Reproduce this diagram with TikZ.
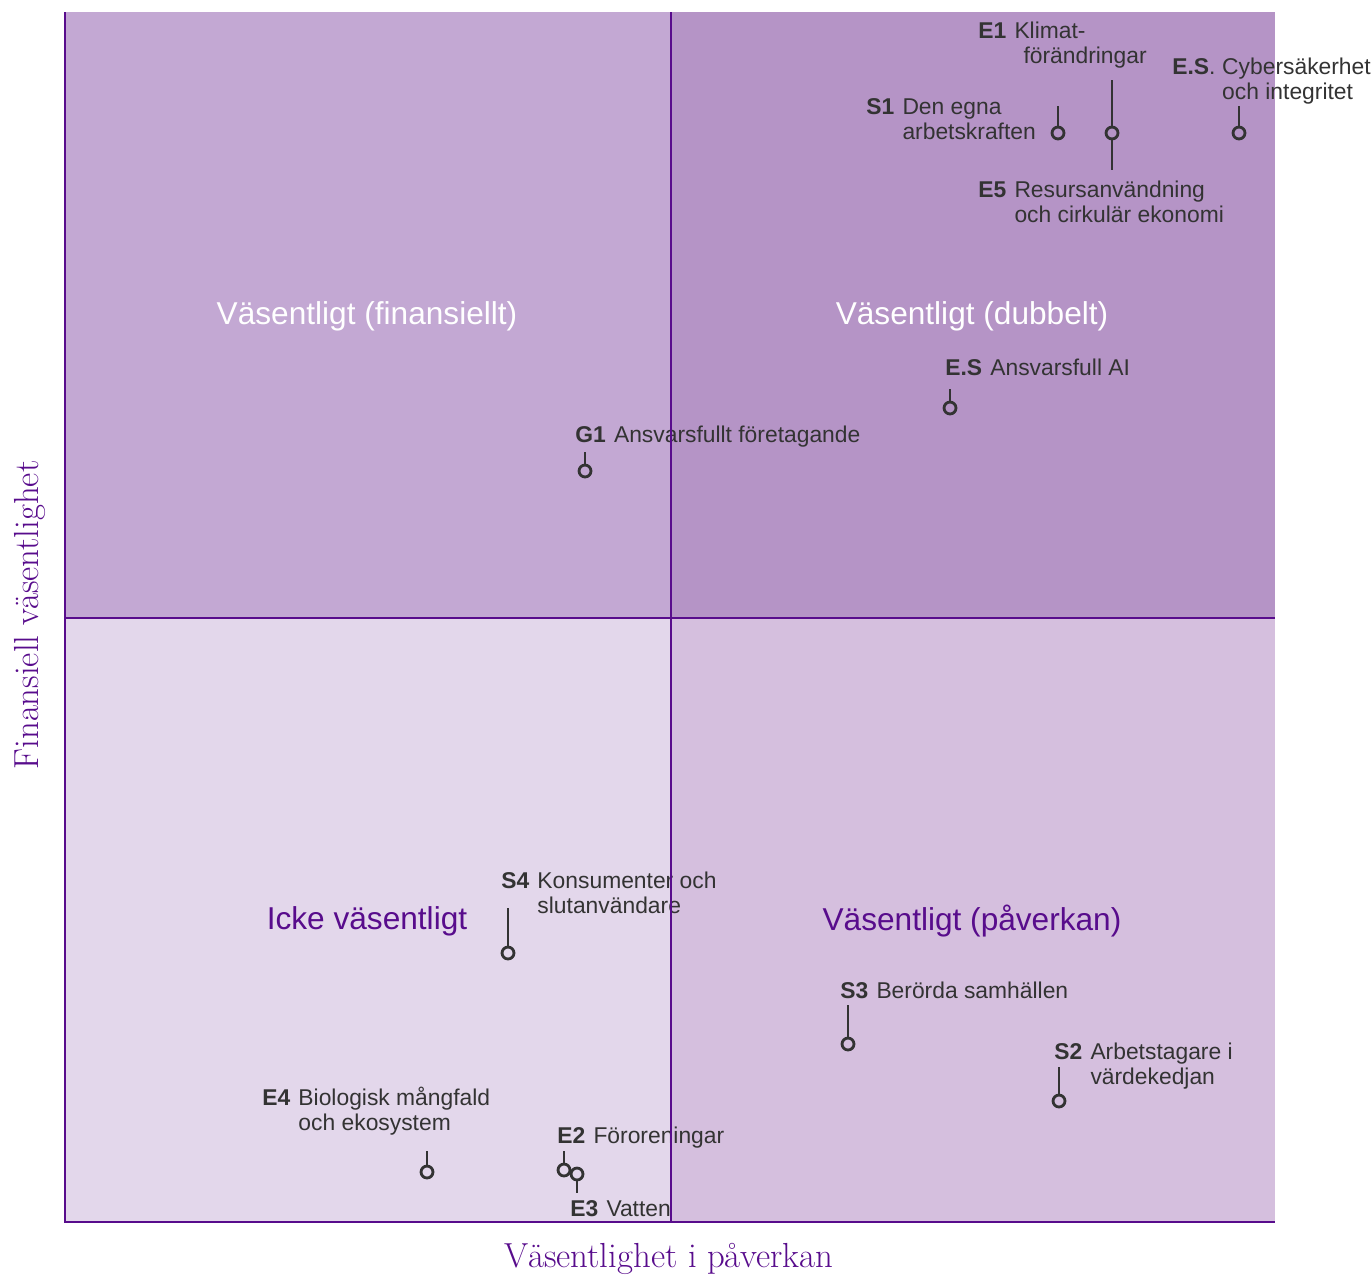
\documentclass[tikz,border=0pt]{standalone}
\usepackage{fontspec}
\newfontfamily\labelfont{Liberation Sans}
\usetikzlibrary{positioning}

\definecolor{quadfin}{RGB}{195,168,211}
\definecolor{quaddub}{RGB}{181,148,198}
\definecolor{quadicke}{RGB}{227,215,235}
\definecolor{quadpav}{RGB}{213,191,222}
\definecolor{gridpurple}{RGB}{88,12,140}
\definecolor{labelgray}{RGB}{51,51,51}

\tikzset{
    dot/.style={circle, draw=labelgray, fill=none, line width=1.6pt, minimum size=6.8pt, inner sep=0pt},
    stem/.style={draw=labelgray, line width=1.6pt},
    code/.style={font=\labelfont\bfseries\fontsize{13}{14.7}\selectfont, text=labelgray, inner sep=0pt, anchor=base west},
    item/.style={font=\labelfont\fontsize{13}{14.7}\selectfont, text=labelgray, inner sep=0pt, align=left},
    twoline/.style={yshift=-14.7pt},
    quadlabel/.style={font=\labelfont\fontsize{18}{20}\selectfont, inner sep=0pt},
    axislabel/.style={font=\fontsize{19.8}{22}\selectfont, text=gridpurple, inner sep=0pt},
    gridline/.style={draw=gridpurple, line width=1.6pt}
}

\begin{document}
\begin{tikzpicture}[x=0.02cm, y=-0.02cm]
    \useasboundingbox (0,0) rectangle (1371,1278);

    % quadrants
    \coordinate (origin) at (65,1222);
    \coordinate (topleft) at (65,12);
    \coordinate (center) at (671,618);
    \coordinate (topright) at (1275,12);
    \coordinate (bottomright) at (1275,1222);
    \fill[quadfin] (topleft) rectangle (center);
    \fill[quaddub] (671,12) rectangle (1275,618);
    \fill[quadicke] (65,618) rectangle (671,1222);
    \fill[quadpav] (center) rectangle (bottomright);

    \node (finlabel) [quadlabel, text=white] at (367,316) {Väsentligt (finansiellt)};
    \node (dublabel) [quadlabel, text=white] at (972,316) {Väsentligt (dubbelt)};
    \node (ickelabel) [quadlabel, text=gridpurple] at (367,921) {Icke väsentligt};
    \node (pavlabel) [quadlabel, text=gridpurple] at (972,921) {Väsentligt (påverkan)};

    % markers
    \node (s1) [dot] at (1058,133) {};
    \coordinate (s1top) at (1058,106);
    \draw[stem] (s1top) -- (s1);
    \node (s1code) [code] at (866,114) {S1};
    \node (s1text) [item, base right=0.15cm of s1code, twoline] {Den egna\\arbetskraften};

    \node (e1) [dot] at (1112,133) {};
    \coordinate (e1top) at (1112,80);
    \coordinate (e5bottom) at (1112,170);
    \draw[stem] (e1top) -- (e1);
    \draw[stem] (e1) -- (e5bottom);
    \node (e1code) [code] at (978,38) {E1};
    \node (e1text) [item, base right=0.15cm of e1code, twoline] {Klimat-\\\hspace*{0.18cm}förändringar};
    \node (e5code) [code] at (978,197) {E5};
    \node (e5text) [item, base right=0.15cm of e5code, twoline] {Resursanvändning\\och cirkulär ekonomi};

    \node (cyber) [dot] at (1239,133) {};
    \coordinate (cybertop) at (1239,106);
    \draw[stem] (cybertop) -- (cyber);
    \node (cybercode) [code] at (1172,74) {E.S\mdseries.};
    \node (cybertext) [item, base right=0.12cm of cybercode, twoline] {Cybersäkerhet\\och integritet};

    \node (ai) [dot] at (950,408) {};
    \coordinate (aitop) at (950,389);
    \draw[stem] (aitop) -- (ai);
    \node (aicode) [code] at (945,375) {E.S};
    \node (aitext) [item, base right=0.15cm of aicode] {Ansvarsfull AI};

    \node (g1) [dot] at (585,471) {};
    \coordinate (g1top) at (585,452);
    \draw[stem] (g1top) -- (g1);
    \node (g1code) [code] at (575,442) {G1};
    \node (g1text) [item, base right=0.15cm of g1code] {Ansvarsfullt företagande};

    \node (s4) [dot] at (508,953) {};
    \coordinate (s4top) at (508,908);
    \draw[stem] (s4top) -- (s4);
    \node (s4code) [code] at (501,888) {S4};
    \node (s4text) [item, base right=0.15cm of s4code, twoline] {Konsumenter och\\slutanvändare};

    \node (s3) [dot] at (848,1044) {};
    \coordinate (s3top) at (848,1005);
    \draw[stem] (s3top) -- (s3);
    \node (s3code) [code] at (840,998) {S3};
    \node (s3text) [item, base right=0.15cm of s3code] {Berörda samhällen};

    \node (s2) [dot] at (1059,1101) {};
    \coordinate (s2top) at (1059,1067);
    \draw[stem] (s2top) -- (s2);
    \node (s2code) [code] at (1054,1059) {S2};
    \node (s2text) [item, base right=0.15cm of s2code, twoline] {Arbetstagare i\\värdekedjan};

    \node (e4) [dot] at (427,1172) {};
    \coordinate (e4top) at (427,1151);
    \draw[stem] (e4top) -- (e4);
    \node (e4code) [code] at (262,1105) {E4};
    \node (e4text) [item, base right=0.15cm of e4code, twoline] {Biologisk mångfald\\och ekosystem};

    \node (e2) [dot] at (564,1170) {};
    \coordinate (e2top) at (564,1151);
    \draw[stem] (e2top) -- (e2);
    \node (e2code) [code] at (557,1143) {E2};
    \node (e2text) [item, base right=0.15cm of e2code] {Föroreningar};

    \node (e3) [dot] at (577,1174) {};
    \coordinate (e3bottom) at (577,1193);
    \draw[stem] (e3) -- (e3bottom);
    \node (e3code) [code] at (570,1216) {E3};
    \node (e3text) [item, base right=0.15cm of e3code] {Vatten};

    % axes and dividers
    \draw[gridline] (topleft) -- (origin) -- (bottomright);
    \draw[gridline] (671,12) -- (671,1222);
    \draw[gridline] (65,618) -- (1275,618);

    \node (xaxis) [axislabel] at (669,1259) {Väsentlighet i påverkan};
    \node (yaxis) [axislabel, rotate=90] at (30,615) {Finansiell väsentlighet};
\end{tikzpicture}
\end{document}
